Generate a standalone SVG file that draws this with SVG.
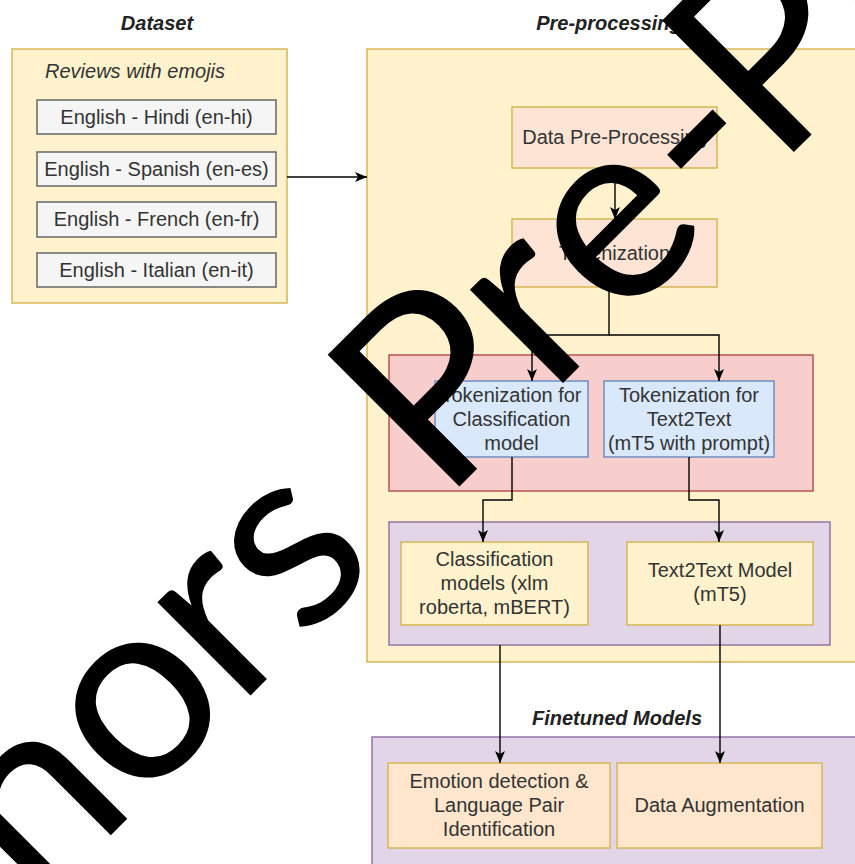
<svg xmlns="http://www.w3.org/2000/svg" width="855" height="864" viewBox="0 0 855 864">
<style>
.t{font-family:"Liberation Sans",Arial,sans-serif;font-size:20px;fill:#333;text-anchor:middle}
.ti{font-family:"Liberation Sans",Arial,sans-serif;font-size:20px;font-weight:bold;font-style:italic;fill:#222;text-anchor:middle}
.yel{fill:#fff2cc;stroke:#d6b656;stroke-width:1.5}
.peach{fill:#fde4d4;stroke:#d6b656;stroke-width:1.5}
.orange{fill:#ffe6cc;stroke:#d6b656;stroke-width:1.5}
.gray{fill:#f5f5f5;stroke:#666;stroke-width:1.5}
.red{fill:#f8cecc;stroke:#b85450;stroke-width:1.5}
.blue{fill:#dae8fc;stroke:#6c8ebf;stroke-width:1.5}
.pur{fill:#e1d5e7;stroke:#9673a6;stroke-width:1.5}
.c{fill:none;stroke:#000;stroke-width:1.4}
.wm{font-family:Lato,"Noto Sans",sans-serif;font-size:260px;fill:#000}
</style>
<defs>
<marker id="arr" viewBox="0 0 12 10" refX="12" refY="5" markerWidth="12" markerHeight="10" markerUnits="userSpaceOnUse" orient="auto">
<path d="M0,0 L12,5 L0,10 L3,5 z" fill="#000"/>
</marker>
</defs>
<rect width="855" height="864" fill="#fff"/>

<g id="dataset">
<rect class="yel" x="12" y="49" width="275" height="254"/>
<text class="ti" x="157" y="30">Dataset</text>
<text x="45" y="78" style="font-family:'Liberation Sans',Arial,sans-serif;font-size:20px;font-style:italic;fill:#333">Reviews with emojis</text>
</g>
<g id="en-hi"><rect class="gray" x="37" y="100" width="239" height="34"/><text class="t" x="156.5" y="124">English - Hindi (en-hi)</text></g>
<g id="en-es"><rect class="gray" x="37" y="152" width="239" height="34"/><text class="t" x="156.5" y="176">English - Spanish (en-es)</text></g>
<g id="en-fr"><rect class="gray" x="37" y="202" width="239" height="35"/><text class="t" x="156.5" y="226">English - French (en-fr)</text></g>
<g id="en-it"><rect class="gray" x="37" y="253" width="239" height="34"/><text class="t" x="156.5" y="277">English - Italian (en-it)</text></g>

<g id="preprocessing">
<rect class="yel" x="367" y="49" width="500" height="613"/>
<text class="ti" x="609" y="30">Pre-processing</text>
</g>
<g id="data-preprocessing"><rect class="peach" x="512" y="107" width="205" height="61"/><text class="t" x="614.5" y="144">Data Pre-Processing</text></g>
<g id="tokenization"><rect class="peach" x="512" y="219" width="205" height="68"/><text class="t" x="614.5" y="260">Tokenization</text></g>

<g id="tokenizers"><rect class="red" x="389" y="355" width="424" height="136"/></g>
<g id="tok-class"><rect class="blue" x="435" y="381" width="153" height="76"/>
<text class="t" x="511.5" y="402">Tokenization for</text><text class="t" x="511.5" y="426">Classification</text><text class="t" x="511.5" y="450">model</text></g>
<g id="tok-t2t"><rect class="blue" x="604" y="381" width="170" height="76"/>
<text class="t" x="689" y="402">Tokenization for</text><text class="t" x="689" y="426">Text2Text</text><text class="t" x="689" y="450">(mT5 with prompt)</text></g>

<g id="models"><rect class="pur" x="389" y="522" width="441" height="123"/></g>
<g id="class-models"><rect class="yel" x="401" y="542" width="187" height="83"/>
<text class="t" x="494.5" y="566">Classification</text><text class="t" x="494.5" y="590">models (xlm</text><text class="t" x="494.5" y="614">roberta, mBERT)</text></g>
<g id="t2t-model"><rect class="yel" x="627" y="542" width="186" height="83"/>
<text class="t" x="720" y="577">Text2Text Model</text><text class="t" x="720" y="601">(mT5)</text></g>

<g id="finetuned">
<rect class="pur" x="372" y="737" width="500" height="140"/>
<text class="ti" x="617" y="725">Finetuned Models</text>
</g>
<g id="emotion"><rect class="orange" x="388" y="763" width="222" height="85"/>
<text class="t" x="499" y="788">Emotion detection &amp;</text><text class="t" x="499" y="812">Language Pair</text><text class="t" x="499" y="836">Identification</text></g>
<g id="augmentation"><rect class="orange" x="617" y="763" width="205" height="85"/>
<text class="t" x="719.5" y="812">Data Augmentation</text></g>

<g id="connectors">
<path class="c" d="M287,177 H367" marker-end="url(#arr)"/>
<path class="c" d="M615,168 V219" marker-end="url(#arr)"/>
<path class="c" d="M609,287 V335 H532 V381" marker-end="url(#arr)"/>
<path class="c" d="M609,335 H719 V381" marker-end="url(#arr)"/>
<path class="c" d="M512,457 V500 H483 V542" marker-end="url(#arr)"/>
<path class="c" d="M689,457 V500 H719 V542" marker-end="url(#arr)"/>
<path class="c" d="M500,645 V763" marker-end="url(#arr)"/>
<path class="c" d="M720,625 V763" marker-end="url(#arr)"/>
</g>

<text class="wm" transform="translate(473,473) rotate(-45)" x="-1031 -859 -711 -617 -475 -333 -240 -123 -43 109 206 346 430 586 685 747 895" y="0">Authors Pre-Print</text>
</svg>
